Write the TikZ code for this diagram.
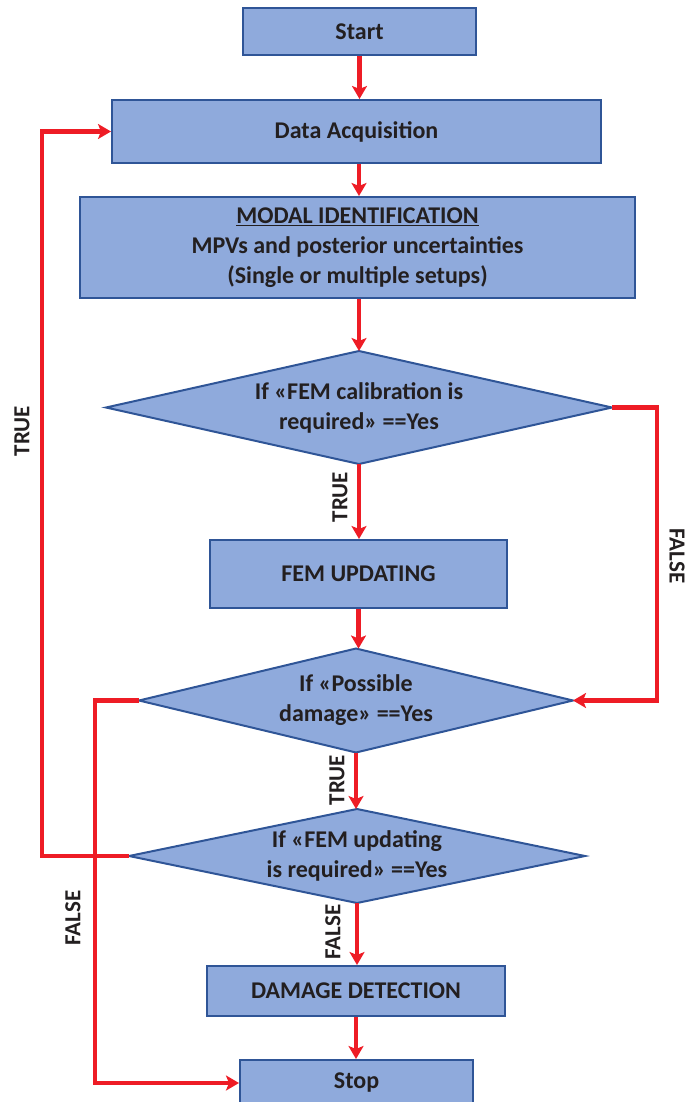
\documentclass[tikz,border=0pt]{standalone}
\usepackage{fontspec}
\setmainfont{Carlito}
\usetikzlibrary{arrows.meta}
\definecolor{boxfill}{HTML}{8FAADC}
\definecolor{boxline}{HTML}{2F5597}
\definecolor{arrowred}{HTML}{EE1C25}
\definecolor{txt}{HTML}{231F20}
\tikzset{
  box/.style={draw=boxline, line width=2pt, fill=boxfill, rectangle, inner sep=0pt, font=\bfseries\fontsize{24}{30}\selectfont, text=txt, align=center},
  dshape/.style={draw=boxline, line width=2pt, fill=boxfill, line join=miter},
  dtext/.style={inner sep=0pt, font=\bfseries\fontsize{24}{30}\selectfont, text=txt, align=center},
  link/.style={draw=arrowred, line width=4.5pt, -{Stealth[length=13pt,width=15pt,inset=3pt]}},
  lab/.style={font=\bfseries\fontsize{23}{26}\selectfont, text=txt, inner sep=0pt}
}
\newcommand{\decision}[6]{% name, cx, cy, halfw, halfh, text
  \coordinate (#1-n) at (#2,#3-#5);
  \coordinate (#1-s) at (#2,#3+#5);
  \coordinate (#1-e) at (#2+#4,#3);
  \coordinate (#1-w) at (#2-#4,#3);
  \draw[dshape] (#1-n) -- (#1-e) -- (#1-s) -- (#1-w) -- cycle;
  \node[dtext] (#1) at (#2,#3) {#6};
}
\begin{document}
\begin{tikzpicture}[x=1pt,y=-1pt]
\useasboundingbox (0,0) rectangle (687,1102);
\node[box, minimum width=233pt, minimum height=47pt] (start) at (359.5,31.5) {Start};
\node[box, minimum width=489pt, minimum height=63pt] (data) at (356.5,131.5) {Data Acquisition};
\node[box, minimum width=555pt, minimum height=101pt] (modal) at (357.5,247.5) {\underline{MODAL IDENTIFICATION}\\MPVs and posterior uncertainties\\(Single or multiple setups)};
\decision{d1}{359}{407.5}{253}{56.5}{If «FEM calibration is\\required» ==Yes}
\node[box, minimum width=297pt, minimum height=68pt] (fem) at (358.5,574) {FEM UPDATING};
\decision{d2}{356}{700.5}{217}{52}{If «Possible\\damage» ==Yes}
\decision{d3}{357}{856}{228}{47}{If «FEM updating\\is required» ==Yes}
\node[box, minimum width=298pt, minimum height=50pt] (dd) at (356,991) {DAMAGE DETECTION};
\node[box, minimum width=233pt, minimum height=46pt] (stop) at (356.5,1083) {Stop};

\coordinate (c1) at (42,856);
\coordinate (c2) at (42,131.5);
\coordinate (c3) at (657,407.5);
\coordinate (c4) at (657,700.5);
\coordinate (c5) at (95,700.5);
\coordinate (c6) at (95,1083);

\draw[link] (start.south) -- (start.south |- data.north);
\draw[link] (data.south -| 359,0) -- (modal.north -| 359,0);
\draw[link] (modal.south -| 359,0) -- (d1-n);
\draw[link] (d1-s) -- (d1-s |- fem.north);
\draw[link] (fem.south) -- (fem.south |- d2-n);
\draw[link] (d2-s) -- (d2-s |- d3-n);
\draw[link] (d3-s) -- (d3-s |- dd.north);
\draw[link] (dd.south) -- (dd.south |- stop.north);
\draw[link] (d3-w) -- (c1) -- (c2) -- (data.west);
\draw[link] (d1-e) -- (c3) -- (c4) -- (d2-e);
\draw[link] (d2-w) -- (c5) -- (c6) -- (stop.west);

\node[lab, rotate=90] (t1) at (22,431) {TRUE};
\node[lab, rotate=90] (t2) at (340,497) {TRUE};
\node[lab, rotate=-90] (f1) at (677,556) {FALSE};
\node[lab, rotate=90] (t3) at (337,780) {TRUE};
\node[lab, rotate=90] (f2) at (73,918) {FALSE};
\node[lab, rotate=90] (f3) at (333,932) {FALSE};
\end{tikzpicture}
\end{document}
